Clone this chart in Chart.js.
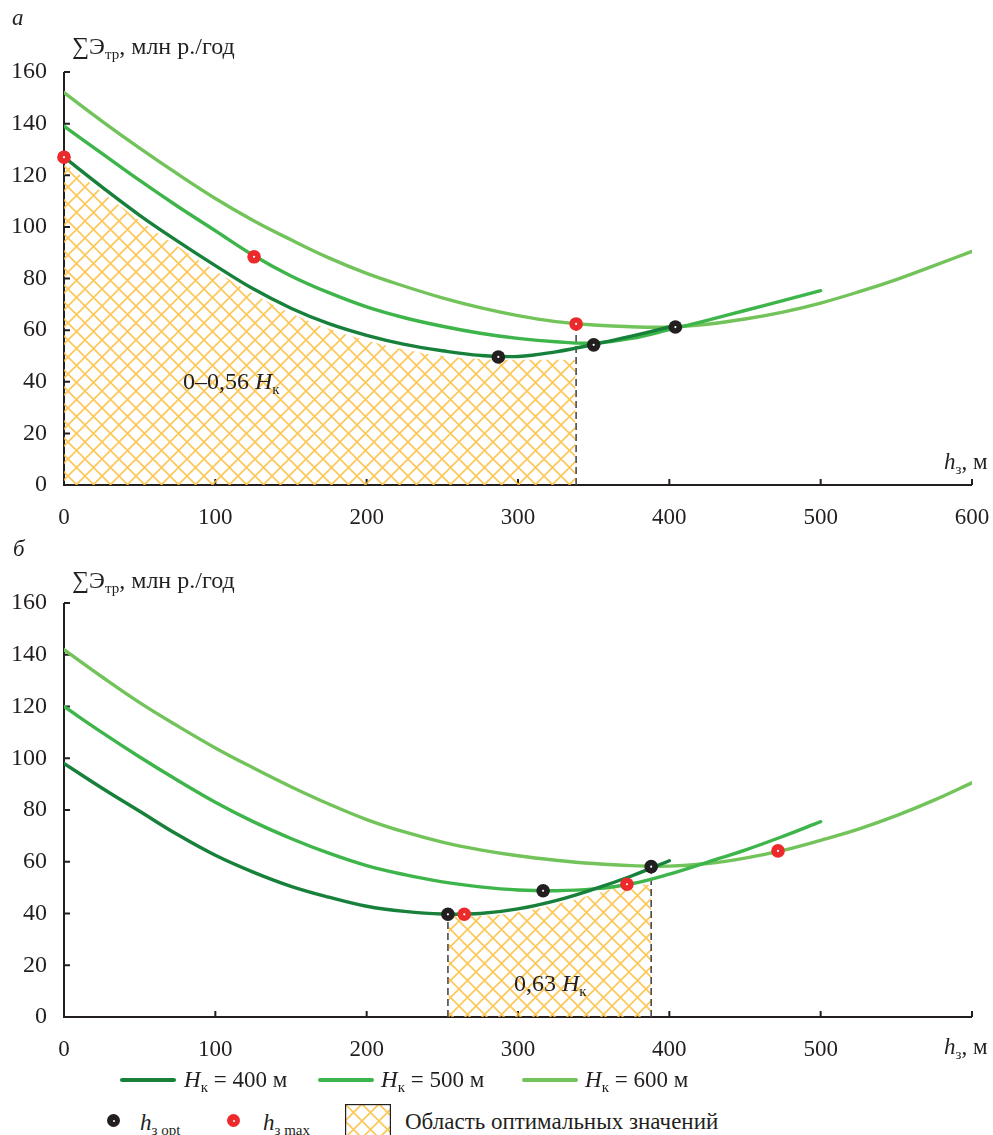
<!DOCTYPE html>
<html>
<head>
<meta charset="utf-8">
<script src="https://cdn.jsdelivr.net/npm/chart.js@4.4.1/dist/chart.umd.min.js"></script>
<style>
  body { margin: 0; width: 993px; height: 1135px; position: relative; background: #fff; overflow: hidden;
         font-family: "Liberation Serif", "DejaVu Serif", serif; color: #231f20; }
  canvas { position: absolute; left: 0; }
  .t { position: absolute; font-size: 23px; line-height: 1; white-space: nowrap; }
  .t sub { font-size: 15px; vertical-align: -5px; line-height: 0; }
  .ttl { font-size: 24px; }
  i { font-style: italic; }
  .sw { position: absolute; height: 4px; width: 56px; border-radius: 2px; }
  .dot { position: absolute; width: 13px; height: 13px; border-radius: 50%; }
  .dot::after { content: ""; position: absolute; left: 5.5px; top: 5.5px; width: 2px; height: 2px; background: #fff; border-radius: 50%; }
</style>
</head>
<body>
<canvas id="ca" width="993" height="540" style="top:0"></canvas>
<canvas id="cb" width="993" height="545" style="top:530px"></canvas>

<div class="t" style="left:12px;top:6px;"><i>а</i></div>
<div class="t ttl" style="left:72px;top:34px;">∑Э<sub>тр</sub>, млн р./год</div>
<div class="t" style="left:944px;top:450px;"><i>h</i><sub>з</sub>, м</div>
<div class="t ttl" style="left:183px;top:369px;">0–0,56 <i>H</i><sub>к</sub></div>

<div class="t" style="left:13px;top:537px;"><i>б</i></div>
<div class="t ttl" style="left:72px;top:568px;">∑Э<sub>тр</sub>, млн р./год</div>
<div class="t" style="left:944px;top:1035px;"><i>h</i><sub>з</sub>, м</div>
<div class="t ttl" style="left:514px;top:971px;">0,63 <i>H</i><sub>к</sub></div>

<!-- legend -->
<div class="sw" style="left:120px;top:1078px;background:#17803a"></div>
<div class="t" style="left:184px;top:1068px;"><i>H</i><sub>к</sub> = 400 м</div>
<div class="sw" style="left:318px;top:1078px;background:#3db54a"></div>
<div class="t" style="left:381px;top:1068px;"><i>H</i><sub>к</sub> = 500 м</div>
<div class="sw" style="left:522px;top:1078px;background:#72c35a"></div>
<div class="t" style="left:585px;top:1068px;"><i>H</i><sub>к</sub> = 600 м</div>

<div class="dot" style="left:107px;top:1114px;background:#231f20"></div>
<div class="t" style="left:140px;top:1111px;"><i>h</i><sub>з opt</sub></div>
<div class="dot" style="left:227px;top:1114px;background:#ec2a2c"></div>
<div class="t" style="left:263px;top:1111px;"><i>h</i><sub>з max</sub></div>
<canvas id="lg" width="46" height="32" style="left:345px;top:1104px;"></canvas>
<div class="t" style="left:405px;top:1110px;">Область оптимальных значений</div>

<script>
// ---- data, panel а ----
const xA400 = [0,25,50,75,100,125,150,175,200,225,250,275,300,325,350,375,400];
const yA400 = [127,115.5,104.5,94.5,85,76,68.5,62.5,58,54.5,52,50.2,49.8,51.6,54.4,57.7,61.2];
const xA500 = [0,25,50,75,100,125,150,175,200,225,250,275,300,325,350,375,400,425,450,475,500];
const yA500 = [139,128.5,118,108,98.5,89,81,74.5,69,64.8,61.5,58.8,56.8,55.5,55,56.8,60.2,63.8,67.6,71.4,75.3];
const xA600 = [0,25,50,75,100,125,150,175,200,225,250,275,300,325,350,375,400,425,450,475,500,525,550,575,600];
const yA600 = [152,141,130.5,120.5,111,102.5,95,88,82,77,72.5,68.7,65.6,63.3,62,61.3,61.2,62.3,64.3,67,70.5,74.8,79.6,85,90.5];
const xAopt = [287, 350, 404];
const yAopt = [49.6, 54.3, 61.2];
const xAmax = [0, 125.6, 338.4];
const yAmax = [127, 88.4, 62.4];
const xAzone = [0,25,50,75,100,125,150,175,200,225,250,275,300,338];
const yAzone = [125,113.5,102.5,92.5,83,74,66.5,60.5,56,52.5,50,48.8,48.5,48.5];
const xAdash = [338.4];
const yAdash = [62.4];

// ---- data, panel б ----
const xB400 = [0,25,50,75,100,125,150,175,200,225,250,275,300,325,350,375,400];
const yB400 = [98,88.5,79.5,70.5,62.5,56,50.5,46.3,42.8,40.8,39.8,40,41.8,45,49.4,54.5,60.4];
const xB500 = [0,25,50,75,100,125,150,175,200,225,250,275,300,325,350,375,400,425,450,475,500];
const yB500 = [120,110,100.5,91.5,83,75.5,69,63.3,58.5,55,52.2,50.3,49.1,48.8,49.5,51.5,55.2,59.8,64.5,69.8,75.5];
const xB600 = [0,25,50,75,100,125,150,175,200,225,250,275,300,325,350,375,400,425,450,475,500,525,550,575,600];
const yB600 = [142,131.5,121.5,112.5,104,96.3,89,82.3,76.3,71.5,67.6,64.6,62.3,60.6,59.3,58.5,58.3,59.3,61.4,64.4,68.3,72.6,77.8,83.8,90.5];
const xBopt = [253.7, 316.6, 388];
const yBopt = [39.7, 48.8, 58.1];
const xBmax = [264.5, 372, 471.8];
const yBmax = [39.7, 51.3, 64.2];
const xBzone = [254,275,300,325,350,372,388];
const yBzone = [39,39,40.5,43.5,47.3,51,51];
const xBdash = [253.7, 388];
const yBdash = [39.7, 58.1];

const yTicks = [0,20,40,60,80,100,120,140,160];
const xTicks = [0,100,200,300,400,500,600];

const ink = '#231f20';
const c400 = '#17803a', c500 = '#3db54a', c600 = '#72c35a';
const serif = '"Liberation Serif", "Times New Roman", serif';

function pts(xs, ys) { return xs.map((x, i) => ({ x: x, y: ys[i] })); }

function hatchPattern(ctx) {
  const n = 17;
  const t = document.createElement('canvas');
  t.width = t.height = n;
  const g = t.getContext('2d');
  g.strokeStyle = 'rgba(251, 190, 60, 0.85)';
  g.lineWidth = 1.7;
  g.beginPath();
  for (const o of [-n, 0, n]) {
    g.moveTo(o, 0); g.lineTo(o + n, n);
    g.moveTo(o + n, 0); g.lineTo(o, n);
  }
  g.stroke();
  return ctx.createPattern(t, 'repeat');
}

// axis lines with short inner ticks
const axesPlugin = {
  id: 'axes',
  beforeDatasetsDraw(chart) {
    const { ctx, scales: { x, y } } = chart;
    const x0 = x.getPixelForValue(0), x1 = x.getPixelForValue(600);
    const y0 = y.getPixelForValue(0), y1 = y.getPixelForValue(160);
    ctx.save();
    ctx.strokeStyle = ink;
    ctx.lineWidth = 2;
    ctx.beginPath();
    ctx.moveTo(x0, y1); ctx.lineTo(x0, y0); ctx.lineTo(x1, y0);
    yTicks.forEach(v => { const p = y.getPixelForValue(v); ctx.moveTo(x0, p); ctx.lineTo(x0 + 6, p); });
    xTicks.forEach(v => { const p = x.getPixelForValue(v); ctx.moveTo(p, y0); ctx.lineTo(p, y0 - 6); });
    ctx.stroke();
    ctx.restore();
  }
};

function makeChart(id, d, topPad, xH, lastLabel) {
  const ctx = document.getElementById(id).getContext('2d');
  const dash = [];
  d.dashX.forEach((x, i) => {
    dash.push({
      type: 'line', data: [{ x: x, y: 0 }, { x: x, y: d.dashY[i] }],
      borderColor: '#4a4a4a', borderWidth: 1.6, borderDash: [7, 4], pointRadius: 0, order: 5
    });
  });
  const curve = (xs, ys, col, ord) => ({
    type: 'line', data: pts(xs, ys), borderColor: col, borderWidth: 3.4, pointRadius: 0,
    tension: 0.4, fill: false, borderCapStyle: 'round', order: ord
  });
  return new Chart(ctx, {
    type: 'scatter',
    data: {
      datasets: [
        { type: 'line', data: pts(d.zoneX, d.zoneY), fill: 'origin', backgroundColor: hatchPattern(ctx),
          borderWidth: 0, pointRadius: 0, tension: 0.4, order: 6 },
        ...dash,
        curve(d.x600, d.y600, c600, 4),
        curve(d.x500, d.y500, c500, 3),
        curve(d.x400, d.y400, c400, 2),
        { data: pts(d.optX, d.optY), backgroundColor: ink, borderWidth: 0, pointRadius: 6.8, clip: false, order: 1 },
        { data: pts(d.maxX, d.maxY), backgroundColor: '#ec2a2c', borderWidth: 0, pointRadius: 6.8, clip: false, order: 1 },
        { data: pts(d.optX.concat(d.maxX), d.optY.concat(d.maxY)), backgroundColor: '#fff', borderWidth: 0,
          pointRadius: 1.1, clip: false, order: 0 }
      ]
    },
    options: {
      responsive: false,
      animation: false,
      events: [],
      layout: { padding: { top: topPad, right: 21, left: 0, bottom: 0 } },
      plugins: { legend: { display: false }, tooltip: { enabled: false } },
      scales: {
        x: {
          type: 'linear', min: 0, max: 600,
          afterFit(s) { s.height = xH; s.paddingLeft = 0; s.paddingRight = 0; },
          afterBuildTicks(s) { s.ticks = xTicks.map(v => ({ value: v })); },
          border: { display: false },
          grid: { display: false, drawTicks: false },
          ticks: { padding: 19, color: ink, font: { family: serif, size: 23 },
                   maxRotation: 0, callback: v => (v > lastLabel ? '' : v) }
        },
        y: {
          type: 'linear', min: 0, max: 160,
          afterFit(s) { s.width = 64; s.paddingTop = 0; s.paddingBottom = 0; },
          afterBuildTicks(s) { s.ticks = yTicks.map(v => ({ value: v })); },
          border: { display: false },
          grid: { display: false, drawTicks: false },
          ticks: { padding: 17, color: ink, font: { family: serif, size: 24 } }
        }
      }
    },
    plugins: [axesPlugin]
  });
}

makeChart('ca', {
  x400: xA400, y400: yA400, x500: xA500, y500: yA500, x600: xA600, y600: yA600,
  optX: xAopt, optY: yAopt, maxX: xAmax, maxY: yAmax,
  zoneX: xAzone, zoneY: yAzone, dashX: xAdash, dashY: yAdash
}, 72, 55, 600);

makeChart('cb', {
  x400: xB400, y400: yB400, x500: xB500, y500: yB500, x600: xB600, y600: yB600,
  optX: xBopt, optY: yBopt, maxX: xBmax, maxY: yBmax,
  zoneX: xBzone, zoneY: yBzone, dashX: xBdash, dashY: yBdash
}, 73, 58, 500);

// legend swatch for the optimal zone
(function () {
  const g = document.getElementById('lg').getContext('2d');
  g.fillStyle = hatchPattern(g);
  g.fillRect(1, 1, 44, 31);
  g.strokeStyle = ink; g.lineWidth = 1.2;
  g.strokeRect(0.6, 0.6, 44.8, 40);
})();
</script>
</body>
</html>
